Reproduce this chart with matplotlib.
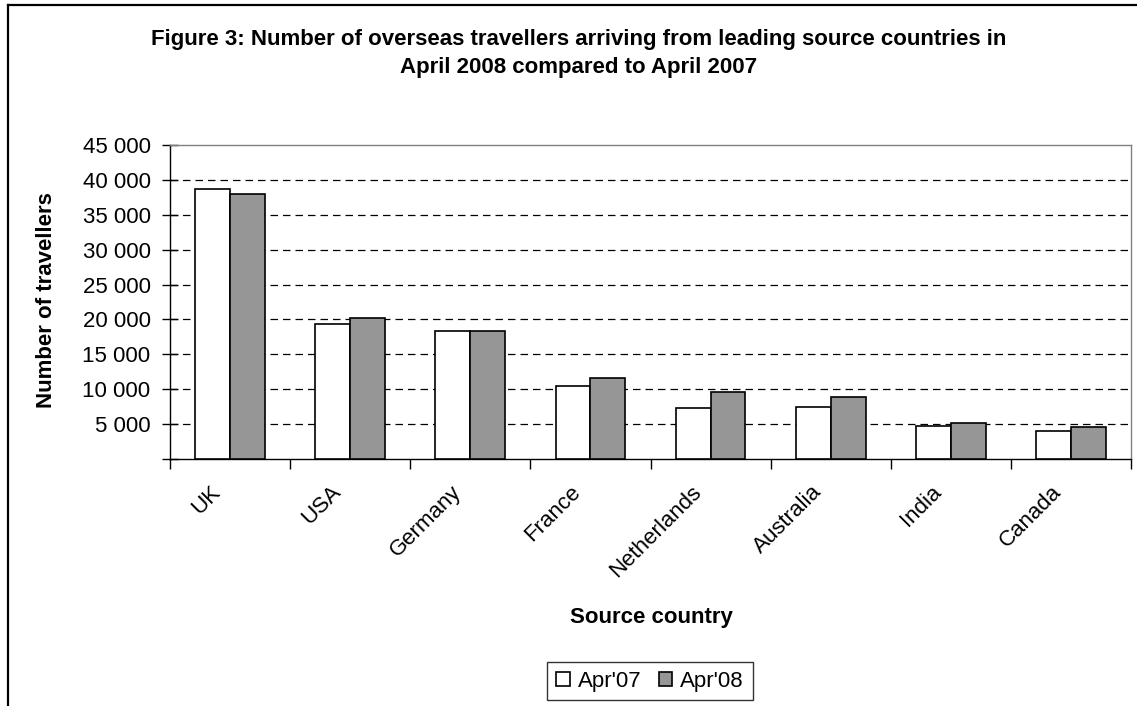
import numpy as np
import matplotlib.pyplot as plt
import matplotlib.transforms as mtransforms
from matplotlib.lines import Line2D

plt.rcParams['font.family'] = ['Liberation Sans', 'DejaVu Sans']

# Values
countries = ["UK", "USA", "Germany", "France", "Netherlands", "Australia", "India", "Canada"]
apr07 = [38700, 19400, 18300, 10450, 7300, 7500, 4800, 4000]
apr08 = [38000, 20150, 18300, 11550, 9650, 8850, 5100, 4550]
series_names = ["Apr'07", "Apr'08"]
yticks = [0, 5000, 10000, 15000, 20000, 25000, 30000, 35000, 40000, 45000]
ytick_labels = ["", "5 000", "10 000", "15 000", "20 000", "25 000",
                "30 000", "35 000", "40 000", "45 000"]

W, H = 1137, 706
fig = plt.figure(figsize=(W / 100, H / 100), dpi=100)
fig.patch.set_facecolor('white')

# outer chart frame (left and top edges visible)
fig.add_artist(Line2D([8 / W, 8 / W], [0, 1 - 5 / H], transform=fig.transFigure, color='black', lw=1.6))
fig.add_artist(Line2D([8 / W, 1], [1 - 5 / H, 1 - 5 / H], transform=fig.transFigure, color='black', lw=1.6))

ax = fig.add_axes([170 / W, 1 - 459 / H, (1131 - 170) / W, (459 - 145) / H])

x = np.arange(len(countries))
w = 0.29
ax.bar(x - w / 2, apr07, width=w, color='white', edgecolor='black', linewidth=1.2, label=series_names[0], zorder=3)
ax.bar(x + w / 2, apr08, width=w, color='#969696', edgecolor='black', linewidth=1.2, label=series_names[1], zorder=3)

ax.set_xlim(-0.5, len(countries) - 0.5)
ax.set_ylim(0, 45000)

# dashed gridlines
for v in yticks[1:-1]:
    ax.axhline(v, color='black', lw=0.9, linestyle=(0, (6, 4)), zorder=1)

ax.spines['top'].set_color('#808080')
ax.spines['right'].set_color('#808080')
ax.spines['left'].set_color('black')
ax.spines['bottom'].set_color('black')
for s in ax.spines.values():
    s.set_linewidth(1.0)

ax.set_yticks(yticks)
ax.set_yticklabels(ytick_labels, fontsize=16)
ax.tick_params(axis='y', direction='inout', length=12, width=1, pad=8)

# tick marks between categories, labels at category centres
ax.set_xticks(np.arange(len(countries) + 1) - 0.5)
ax.set_xticklabels([""] * (len(countries) + 1))
ax.tick_params(axis='x', which='major', direction='out', length=7, width=1)
ax.set_xticks(x, minor=True)
ax.set_xticklabels(countries, minor=True, rotation=45, ha='right', va='top',
                   rotation_mode='anchor', fontsize=16)
ax.tick_params(axis='x', which='minor', length=0, pad=12)
shift = mtransforms.ScaledTranslation(-20 / 100, -6 / 100, fig.dpi_scale_trans)
for lab in ax.get_xticklabels(minor=True):
    lab.set_transform(lab.get_transform() + shift)

fig.text(579 / W, 1 - 39 / H, "Figure 3: Number of overseas travellers arriving from leading source countries in",
         ha='center', va='center', fontsize=16, fontweight='bold')
fig.text(579 / W, 1 - 67 / H, "April 2008 compared to April 2007",
         ha='center', va='center', fontsize=16, fontweight='bold')

fig.text(47 / W, 1 - 300 / H, "Number of travellers", rotation=90, ha='center', va='center',
         fontsize=16, fontweight='bold')
fig.text(651 / W, 1 - 617 / H, "Source country", ha='center', va='center',
         fontsize=16, fontweight='bold')

leg = fig.legend(loc='center', bbox_to_anchor=(650 / W, 1 - 681 / H), ncol=2, fontsize=16,
                 frameon=True, fancybox=False, edgecolor='black', handlelength=0.6,
                 handleheight=0.6, handletextpad=0.35, columnspacing=0.8, borderpad=0.4,
                 borderaxespad=0)
leg.get_frame().set_linewidth(1.0)

fig.savefig("out.png", dpi=100)
